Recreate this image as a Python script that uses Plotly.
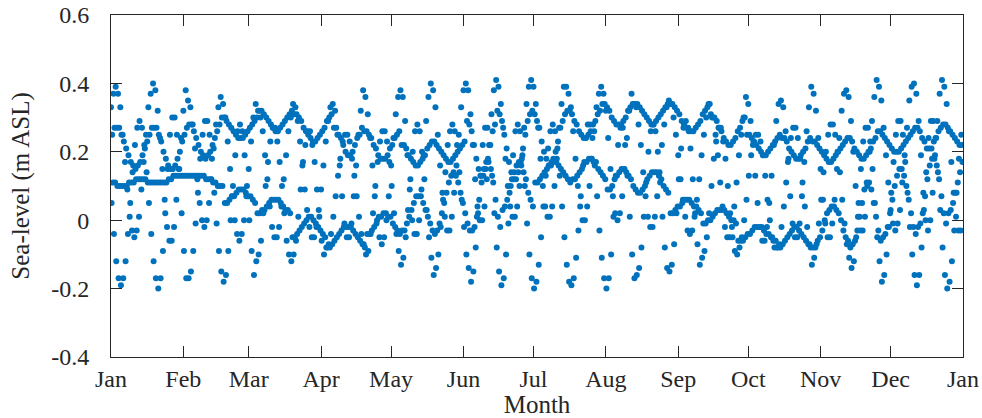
import pandas as pd
import plotly.graph_objects as go

# Sea-level samples, one value per day for each sampling hour (m ASL)
h00 = [.33, .37,
       .39, .37, .33, .25, .17, .09, .01, -.03, -.05, -.03, .01, .09, .17, .25, .33, .37,
       .40, .38, .32, .24, .15, .06, -.02, -.06, -.06, -.02, .06, .15, .24, .32, .38,
       .35, .33, .28, .21, .12, .05, 0, -.02, 0, .05, .12, .21, .28, .33,
       .36, .34, .30, .23, .15, .07, 0, -.04, -.06, -.04, 0, .07, .15, .23, .30, .34,
       .32, .30, .26, .19, .12, .04, -.02, -.05, -.05, -.02, .04, .12, .19, .26, .30,
       .34, .33, .29, .23, .16, .09, .03, -.02, -.05, -.05, -.02, .03, .09, .16, .23, .29, .33,
       .34, .32, .25, .16, .07, -.01, -.05, -.05, -.01, .07, .16, .25, .32,
       .38, .36, .31, .24, .16, .07, 0, -.05, -.07, -.05, 0, .07, .16, .24, .31, .36,
       .38, .36, .29, .19, .09, 0, -.04, -.04, 0, .09, .19, .29, .36,
       .40, .38, .33, .25, .16, .08, .01, -.03, -.03, .01, .08, .16, .25, .33, .38,
       .40, .38, .31, .22, .12, .04, 0, 0, .04, .12, .22, .31, .38,
       .41, .39, .34, .27, .18, .10, .04, .01, .01, .04, .10, .18, .27, .34, .39,
       .41, .39, .34, .27, .18, .10, .04, .01, .01, .04, .10, .18, .27, .34, .39,
       .39, .37, .33, .26, .18, .10, .04, 0, 0, .04, .10, .18, .26, .33, .37,
       .39, .37, .32, .24, .15, .07, .02, 0, .02, .07, .15, .24, .32, .37,
       .34, .33, .28, .22, .14, .07, .01, -.02, -.02, .01, .07, .14, .22, .28, .33,
       .35, .34, .30, .25, .19, .12, .06, .01, -.03, -.04, -.03, .01, .06, .12, .19, .25, .30, .34,
       .31, .30, .25, .19, .11, .04, -.02, -.05, -.05, -.02, .04, .11, .19, .25, .30,
       .36, .34, .29, .22, .13, .05, -.02, -.06, -.06, -.02, .05, .13, .22, .29, .34,
       .35, .33, .26, .17, .07, -.01, -.05, -.05, -.01, .07, .17, .26, .33,
       .39, .37, .32, .24, .15, .06, -.01, -.05, -.05, -.01, .06, .15, .24, .32, .37,
       .38, .36, .29, .20, .10, .01, -.03, -.03, .01, .10, .20, .29, .36,
       .41, .39, .35, .27, .19, .11, .03, -.01, -.03, -.01, .03, .11, .19, .27, .35, .39,
       .40, .37, .29, .19, .08, 0, -.03, 0, .08, .19, .29, .37,
       .41, .39, .34, .26, .17, .08, .01, -.03, -.03]

h06 = [.05, -.04, -.12, -.17,
       -.19, -.17, -.12, -.04, .05, .14, .22, .27, .29, .27, .22, .14, .05, -.04, -.12, -.17,
       -.20, -.17, -.09, .02, .15, .25, .30, .30, .25, .15, .02, -.09, -.17,
       -.17, -.15, -.09, -.01, .08, .18, .25, .29, .29, .25, .18, .08, -.01, -.09, -.15,
       -.18, -.16, -.09, 0, .10, .19, .26, .28, .26, .19, .10, 0, -.09, -.16,
       -.12, -.10, -.06, .02, .10, .17, .23, .27, .27, .23, .17, .10, .02, -.06, -.10,
       -.12, -.10, -.06, .01, .09, .17, .22, .26, .26, .22, .17, .09, .01, -.06, -.10,
       -.08, -.07, -.04, .01, .07, .13, .18, .23, .25, .25, .23, .18, .13, .07, .01, -.04, -.07,
       -.10, -.09, -.04, .02, .10, .17, .23, .26, .26, .23, .17, .10, .02, -.04, -.09,
       -.13, -.11, -.05, .03, .12, .20, .26, .28, .26, .20, .12, .03, -.05, -.11,
       -.16, -.14, -.10, -.02, .06, .14, .22, .26, .28, .26, .22, .14, .06, -.02, -.10, -.14,
       -.18, -.15, -.08, .02, .13, .22, .27, .27, .22, .13, .02, -.08, -.15,
       -.19, -.17, -.10, -.01, .10, .19, .26, .28, .26, .19, .10, -.01, -.10, -.17,
       -.20, -.18, -.13, -.05, .04, .13, .21, .26, .28, .26, .21, .13, .04, -.05, -.13, -.18,
       -.19, -.17, -.11, -.03, .07, .16, .24, .28, .28, .24, .16, .07, -.03, -.11, -.17,
       -.20, -.17, -.10, .01, .13, .22, .27, .27, .22, .13, .01, -.10, -.17,
       -.16, -.14, -.08, .01, .11, .20, .26, .28, .26, .20, .11, .01, -.08, -.14,
       -.15, -.13, -.07, .02, .12, .21, .27, .29, .27, .21, .12, .02, -.07, -.13,
       -.11, -.09, -.05, .02, .10, .18, .23, .27, .27, .23, .18, .10, .02, -.05, -.09,
       -.10, -.08, -.05, 0, .06, .13, .19, .23, .25, .25, .23, .19, .13, .06, 0, -.05, -.08,
       -.08, -.07, -.02, .04, .11, .18, .24, .27, .27, .24, .18, .11, .04, -.02, -.07,
       -.13, -.11, -.07, -.01, .06, .14, .20, .25, .28, .28, .25, .20, .14, .06, -.01, -.07, -.11,
       -.14, -.12, -.05, .05, .15, .23, .27, .27, .23, .15, .05, -.05, -.12,
       -.18, -.16, -.10, -.02, .08, .17, .25, .29, .29, .25, .17, .08, -.02, -.10, -.16,
       -.19, -.16, -.08, .03, .14, .24, .29, .29, .24, .14, .03, -.08, -.16,
       -.20, -.18, -.12, -.03, .08, .18, .25]

h12 = [.25, .27,
       .27, .27, .25, .23, .21, .19, .17, .16, .15, .16, .17, .19, .21, .23, .25, .27,
       .27, .27, .25, .23, .20, .18, .16, .15, .15, .16, .18, .20, .23, .25, .27,
       .28, .28, .26, .24, .22, .20, .19, .18, .19, .20, .22, .24, .26, .28,
       .30, .30, .29, .28, .27, .26, .25, .24, .24, .24, .25, .26, .27, .28, .29, .30,
       .32, .32, .31, .30, .29, .28, .27, .26, .26, .27, .28, .29, .30, .31, .32,
       .31, .31, .30, .29, .27, .26, .25, .24, .23, .23, .24, .25, .26, .27, .29, .30, .31,
       .27, .27, .25, .24, .22, .20, .19, .19, .20, .22, .24, .25, .27,
       .26, .26, .25, .24, .22, .21, .19, .18, .18, .18, .19, .21, .22, .24, .25, .26,
       .22, .22, .21, .19, .18, .17, .16, .16, .17, .18, .19, .21, .22,
       .23, .23, .22, .21, .20, .19, .18, .17, .17, .18, .19, .20, .21, .22, .23,
       .29, .28, .26, .22, .18, .15, .13, .13, .15, .18, .22, .26, .28,
       .32, .31, .29, .25, .21, .17, .14, .12, .12, .14, .17, .21, .25, .29, .31,
       .32, .31, .29, .27, .23, .20, .18, .16, .16, .18, .20, .23, .27, .29, .31,
       .32, .32, .31, .29, .28, .26, .25, .24, .24, .25, .26, .28, .29, .31, .32,
       .34, .34, .33, .32, .30, .29, .28, .28, .28, .29, .30, .32, .33, .34,
       .34, .34, .33, .32, .31, .30, .29, .28, .28, .29, .30, .31, .32, .33, .34,
       .34, .34, .33, .32, .31, .29, .28, .27, .26, .26, .26, .27, .28, .29, .31, .32, .33, .34,
       .30, .30, .29, .27, .26, .24, .23, .22, .22, .23, .24, .26, .27, .29, .30,
       .25, .25, .24, .23, .22, .21, .20, .19, .19, .20, .21, .22, .23, .24, .25,
       .24, .24, .23, .21, .20, .19, .18, .18, .19, .20, .21, .23, .24,
       .23, .23, .22, .21, .20, .19, .18, .17, .17, .18, .19, .20, .21, .22, .23,
       .24, .24, .23, .21, .20, .19, .18, .18, .19, .20, .21, .23, .24,
       .26, .26, .25, .24, .23, .22, .21, .20, .20, .20, .21, .22, .23, .24, .25, .26,
       .27, .27, .26, .24, .23, .21, .21, .21, .23, .24, .26, .27,
       .28, .28, .27, .26, .25, .24, .23, .22, .22]

h18 = [.11, .11, .10, .10,
       .10, .10, .10, .11, .11, .11, .12, .12, .12, .12, .12, .11, .11, .11, .11, .11,
       .11, .11, .11, .11, .12, .12, .13, .13, .13, .13, .13, .13, .13,
       .13, .13, .13, .13, .13, .13, .13, .12, .12, .12, .11, .11, .10, .10, .10,
       .05, .05, .06, .07, .07, .08, .09, .09, .09, .08, .07, .07, .06, .05,
       .02, .02, .03, .03, .04, .05, .06, .06, .06, .06, .05, .04, .03, .03, .02,
       -.05, -.05, -.04, -.03, -.02, -.01, 0, .01, .01, 0, -.01, -.02, -.03, -.04, -.05,
       -.08, -.08, -.07, -.06, -.05, -.04, -.03, -.02, -.02, -.02, -.02, -.03, -.04, -.05, -.06, -.07, -.08,
       -.04, -.04, -.03, -.02, -.01, .01, .01, .02, .02, .01, .01, -.01, -.02, -.03, -.04,
       -.03, -.03, -.01, .01, .03, .05, .07, .07, .07, .05, .03, .01, -.01, -.03,
       -.04, -.03, -.01, .02, .05, .08, .11, .13, .14, .13, .11, .08, .05, .02, -.01, -.03,
       -.03, -.02, .01, .06, .11, .15, .17, .17, .15, .11, .06, .01, -.02,
       .03, .04, .06, .08, .12, .14, .16, .17, .16, .14, .12, .08, .06, .04,
       .11, .11, .12, .13, .14, .15, .16, .17, .17, .17, .16, .15, .14, .13, .12, .11,
       .12, .12, .13, .14, .15, .17, .17, .18, .18, .17, .17, .15, .14, .13, .12,
       .09, .09, .10, .12, .13, .14, .15, .15, .14, .13, .12, .10, .09,
       .08, .08, .09, .10, .12, .13, .14, .14, .14, .13, .12, .10, .09, .08,
       .02, .02, .03, .04, .04, .05, .06, .06, .06, .05, .04, .04, .03, .02,
       -.01, -.01, 0, 0, .01, .02, .03, .03, .03, .03, .02, .01, 0, 0, -.01,
       -.06, -.06, -.06, -.05, -.04, -.04, -.03, -.02, -.02, -.02, -.02, -.03, -.04, -.04, -.05, -.06, -.06,
       -.08, -.08, -.07, -.06, -.05, -.04, -.03, -.02, -.02, -.03, -.04, -.05, -.06, -.07, -.08,
       -.08, -.08, -.06, -.05, -.03, 0, .02, .03, .04, .04, .03, .02, 0, -.03, -.05, -.06, -.08,
       -.07, -.06, -.03, .01, .05, .09, .11, .11, .09, .05, .01, -.03, -.06,
       -.05, -.04, -.02, .02, .06, .10, .13, .15, .15, .13, .10, .06, .02, -.02, -.04,
       -.02, -.01, .02, .07, .12, .16, .18, .18, .16, .12, .07, .02, -.01,
       .02, .03, .05, .08, .11, .14, .17]

sample_hours = [0, 6, 12, 18]
y_ticks = [-0.4, -0.2, 0, 0.2, 0.4, 0.6]
y_tick_labels = ["-0.4", "-0.2", "0", "0.2", "0.4", "0.6"]
start = pd.Timestamp("2015-01-01")

fig = go.Figure()
for hour, vals in zip(sample_hours, [h00, h06, h12, h18]):
    times = start + pd.to_timedelta(list(range(len(vals))), unit="D") + pd.Timedelta(hours=hour)
    fig.add_trace(go.Scatter(
        x=times, y=vals, mode="markers",
        marker=dict(size=6, color="#0072BD", line=dict(width=0)),
        showlegend=False, hoverinfo="x+y"))

font_family = "Liberation Serif, Times New Roman, serif"
axis_common = dict(showline=True, linecolor="#262626", linewidth=1, mirror="ticks",
                   ticks="inside", ticklen=11, tickcolor="#262626", tickwidth=1,
                   showgrid=False, zeroline=False, automargin=False,
                   ticklabeloverflow="allow",
                   tickfont=dict(family=font_family, size=24, color="#262626"))

fig.update_layout(
    width=982, height=418,
    margin=dict(l=111, r=19, t=15, b=61),
    paper_bgcolor="white", plot_bgcolor="white",
    xaxis=dict(range=[start, pd.Timestamp("2016-01-01")], type="date",
               tick0="2015-01-01", dtick="M1", tickformat="%b",
               ticklabelstandoff=0,
               title=dict(text="Month", font=dict(family=font_family, size=25, color="#262626"),
                          standoff=2),
               **axis_common),
    yaxis=dict(range=[-0.4, 0.6], tickvals=y_ticks, ticktext=y_tick_labels,
               ticklabelstandoff=16,
               title=dict(text="Sea-level (m ASL)", font=dict(family=font_family, size=25, color="#262626"),
                          standoff=14),
               **axis_common),
)

# remove the browser's default page margin so the figure sits at the window's corner
fig.write_html("out.html", config={"displayModeBar": False},
               post_script="document.body.style.margin='0';document.body.style.overflow='hidden';")
